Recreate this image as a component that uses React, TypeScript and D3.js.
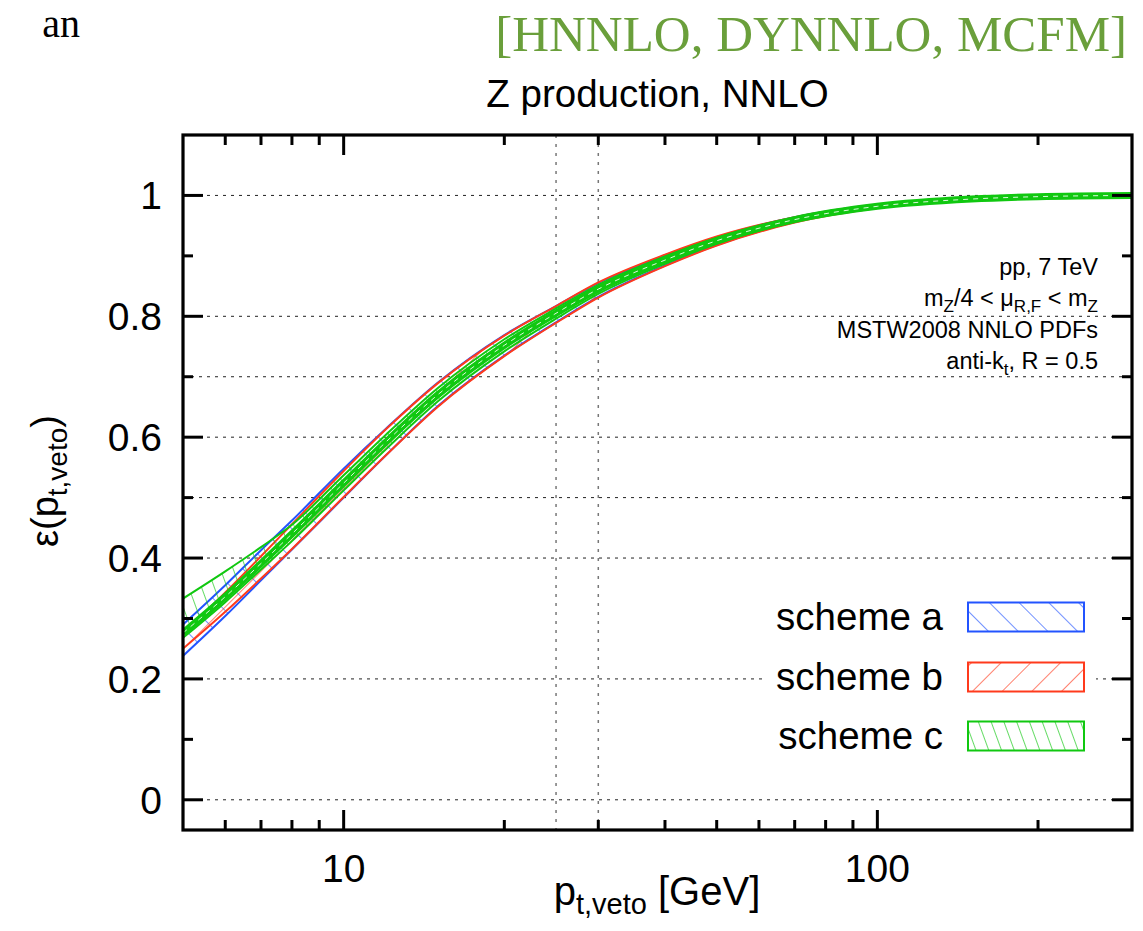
import React from "react";
import * as d3 from "d3";

// Jet-veto efficiency for Z production at NNLO, three matching schemes
const pT = [5, 6, 7, 8, 10, 12, 15, 20, 25, 30, 40, 50, 70, 100, 150, 200, 300];

const schemeALo = [0.238, 0.304, 0.363, 0.414, 0.500, 0.570, 0.651, 0.735, 0.790, 0.832, 0.884, 0.918, 0.956, 0.979, 0.992, 0.997, 0.999];
const schemeAHi = [0.290, 0.355, 0.413, 0.462, 0.548, 0.614, 0.690, 0.769, 0.817, 0.855, 0.901, 0.931, 0.964, 0.985, 0.995, 0.999, 1.0];

const schemeBLo = [0.250, 0.311, 0.366, 0.415, 0.501, 0.570, 0.650, 0.734, 0.789, 0.831, 0.883, 0.917, 0.955, 0.979, 0.992, 0.997, 0.999];
const schemeBHi = [0.275, 0.343, 0.403, 0.456, 0.544, 0.613, 0.689, 0.768, 0.817, 0.856, 0.902, 0.932, 0.964, 0.985, 0.995, 0.999, 1.0];

const schemeCLo = [0.268, 0.327, 0.381, 0.428, 0.512, 0.580, 0.659, 0.742, 0.796, 0.837, 0.887, 0.920, 0.957, 0.980, 0.993, 0.998, 0.999];
const schemeCHi = [0.333, 0.378, 0.418, 0.455, 0.537, 0.604, 0.681, 0.762, 0.813, 0.852, 0.899, 0.930, 0.963, 0.984, 0.995, 0.999, 1.0];
const schemeCCentral = [0.276, 0.336, 0.391, 0.440, 0.524, 0.592, 0.670, 0.752, 0.805, 0.845, 0.893, 0.925, 0.960, 0.982, 0.994, 0.998, 1.0];

const yMajorTicks = [0, 0.2, 0.4, 0.6, 0.8, 1];
const yMinorTicks = [0.1, 0.3, 0.5, 0.7, 0.9];
const yTickLabels = ["0", "0.2", "0.4", "0.6", "0.8", "1"];
const yGridLines = [0, 0.2, 0.4, 0.5, 0.6, 0.7, 0.8, 1];
const xMajorTicks = [10, 100];
const xMinorTicks = [6, 7, 8, 9, 20, 30, 40, 50, 60, 70, 80, 90, 200];
const xTickLabels = ["10", "100"];
const xGridLines = [25, 30];

const legendLabels = ["scheme a", "scheme b", "scheme c"];

const BLUE = "#2354ff";
const RED = "#ff3a1c";
const GREEN = "#10c810";
const SANS = "'Liberation Sans', Arial, Helvetica, sans-serif";
const SERIF = "'Liberation Serif', 'Times New Roman', serif";

const L = 183, R = 1132, T = 135, B = 830;

export default function App() {
  const x = d3.scaleLog().domain([5, 300]).range([L, R]);
  const y = d3.scaleLinear().domain([-0.05, 1.1]).range([B, T]);
  const idx = pT.map((_, i) => i);

  const band = (lo: number[], hi: number[]) =>
    d3.area<number>()
      .x((i) => x(pT[i]))
      .y0((i) => y(lo[i]))
      .y1((i) => y(hi[i]))
      .curve(d3.curveMonotoneX)(idx) as string;
  const line = (v: number[]) =>
    d3.line<number>()
      .x((i) => x(pT[i]))
      .y((i) => y(v[i]))
      .curve(d3.curveMonotoneX)(idx) as string;

  const schemes = [
    { lo: schemeALo, hi: schemeAHi, color: BLUE, pat: "hatchA" },
    { lo: schemeBLo, hi: schemeBHi, color: RED, pat: "hatchB" },
    { lo: schemeCLo, hi: schemeCHi, color: GREEN, pat: "hatchC" },
  ];

  const legendY = [617, 677, 736];

  return (
    <svg width={1143} height={931} style={{ position: "absolute", left: 0, top: 0, display: "block", background: "#fff" }}>
      <defs>
        <pattern id="hatchA" patternUnits="userSpaceOnUse" width={21} height={10} patternTransform="rotate(-45)">
          <line x1={0} y1={-1} x2={0} y2={11} stroke={BLUE} strokeWidth={1.3} />
        </pattern>
        <pattern id="hatchB" patternUnits="userSpaceOnUse" width={21} height={10} patternTransform="rotate(45)">
          <line x1={0} y1={-1} x2={0} y2={11} stroke={RED} strokeWidth={1.3} />
        </pattern>
        <pattern id="hatchC" patternUnits="userSpaceOnUse" width={12} height={10} patternTransform="rotate(-20)">
          <line x1={0} y1={-1} x2={0} y2={11} stroke={GREEN} strokeWidth={1.3} />
        </pattern>
        <clipPath id="plotClip">
          <rect x={L} y={T} width={R - L} height={B - T} />
        </clipPath>
      </defs>

      {/* header texts */}
      <text x={80} y={37} fontFamily={SERIF} fontSize={40} textAnchor="end" fill="#000">an</text>
      <text x={1127} y={51} fontFamily={SERIF} fontSize={51} textAnchor="end" fill="#6a9f3b">[HNNLO, DYNNLO, MCFM]</text>
      <text x={(L + R) / 2} y={107} fontFamily={SANS} fontSize={38.5} textAnchor="middle" fill="#000">Z production, NNLO</text>

      {/* grid */}
      {yGridLines.map((v) => (
        <line key={"gy" + v} x1={L} x2={R} y1={y(v)} y2={y(v)} stroke="#222" strokeWidth={1} strokeDasharray="3,5" />
      ))}
      {xGridLines.map((v) => (
        <line key={"gx" + v} x1={x(v)} x2={x(v)} y1={T} y2={B} stroke="#777" strokeWidth={1.5} strokeDasharray="3,6" />
      ))}

      {/* uncertainty bands */}
      <g clipPath="url(#plotClip)">
        {schemes.map((s, k) => (
          <g key={"s" + k}>
            <path d={band(s.lo, s.hi)} fill={`url(#${s.pat})`} stroke="none" />
            <path d={line(s.lo)} fill="none" stroke={s.color} strokeWidth={2} />
            <path d={line(s.hi)} fill="none" stroke={s.color} strokeWidth={2} />
          </g>
        ))}
        <path d={line(schemeCCentral)} fill="none" stroke={GREEN} strokeWidth={7} />
        <path d={line(schemeCCentral)} fill="none" stroke="#fff" strokeWidth={1} strokeDasharray="5,5" opacity={0.85} />
      </g>

      {/* run conditions */}
      <g fontFamily={SANS} fontSize={23.5} textAnchor="end" fill="#000">
        <text x={1098} y={275}>pp, 7 TeV</text>
        <text x={1098} y={306}>
          m<tspan dy={6} fontSize={17}>Z</tspan>
          <tspan dy={-6}>/4 &lt; μ</tspan>
          <tspan dy={6} fontSize={17}>R,F</tspan>
          <tspan dy={-6}> &lt; m</tspan>
          <tspan dy={6} fontSize={17}>Z</tspan>
        </text>
        <text x={1098} y={338}>MSTW2008 NNLO PDFs</text>
        <text x={1098} y={369}>
          anti-k<tspan dy={6} fontSize={17}>t</tspan>
          <tspan dy={-6}>, R = 0.5</tspan>
        </text>
      </g>

      {/* legend */}
      <rect x={766} y={596} width={330} height={166} fill="#fff" />
      {legendLabels.map((lab, k) => {
        const s = schemes[k];
        const cy = legendY[k];
        return (
          <g key={"lg" + k}>
            <text x={943} y={cy + 13} fontFamily={SANS} fontSize={38.5} textAnchor="end" fill="#000">{lab}</text>
            <rect x={968} y={cy - 14.5} width={116} height={29} fill={`url(#${s.pat})`} stroke={s.color} strokeWidth={2} />
          </g>
        );
      })}

      {/* ticks */}
      {yMajorTicks.map((v) => (
        <g key={"ymt" + v}>
          <line x1={L} x2={L + 20} y1={y(v)} y2={y(v)} stroke="#000" strokeWidth={3} />
          <line x1={R} x2={R - 20} y1={y(v)} y2={y(v)} stroke="#000" strokeWidth={3} />
        </g>
      ))}
      {yMinorTicks.map((v) => (
        <g key={"ymn" + v}>
          <line x1={L} x2={L + 10} y1={y(v)} y2={y(v)} stroke="#000" strokeWidth={3} />
          <line x1={R} x2={R - 10} y1={y(v)} y2={y(v)} stroke="#000" strokeWidth={3} />
        </g>
      ))}
      {xMajorTicks.map((v) => (
        <g key={"xmt" + v}>
          <line x1={x(v)} x2={x(v)} y1={B} y2={B - 20} stroke="#000" strokeWidth={3} />
          <line x1={x(v)} x2={x(v)} y1={T} y2={T + 20} stroke="#000" strokeWidth={3} />
        </g>
      ))}
      {xMinorTicks.map((v) => (
        <g key={"xmn" + v}>
          <line x1={x(v)} x2={x(v)} y1={B} y2={B - 10} stroke="#000" strokeWidth={3} />
          <line x1={x(v)} x2={x(v)} y1={T} y2={T + 10} stroke="#000" strokeWidth={3} />
        </g>
      ))}

      {/* frame */}
      <rect x={L} y={T} width={R - L} height={B - T} fill="none" stroke="#000" strokeWidth={3.2} />

      {/* tick labels */}
      {yMajorTicks.map((v, i) => (
        <text key={"yl" + v} x={162} y={y(v) + 14} fontFamily={SANS} fontSize={39} textAnchor="end" fill="#000">{yTickLabels[i]}</text>
      ))}
      {xMajorTicks.map((v, i) => (
        <text key={"xl" + v} x={x(v)} y={882} fontFamily={SANS} fontSize={39} textAnchor="middle" fill="#000">{xTickLabels[i]}</text>
      ))}

      {/* axis titles */}
      <text x={657} y={905} fontFamily={SANS} fontSize={40} textAnchor="middle" fill="#000">
        p<tspan dy={9} fontSize={29}>t,veto</tspan>
        <tspan dy={-9}> [GeV]</tspan>
      </text>
      <text transform="translate(58,481) rotate(-90)" fontFamily={SANS} fontSize={38} textAnchor="middle" fill="#000">
        ε(p<tspan dy={9} fontSize={28}>t,veto</tspan>
        <tspan dy={-9}>)</tspan>
      </text>
    </svg>
  );
}
